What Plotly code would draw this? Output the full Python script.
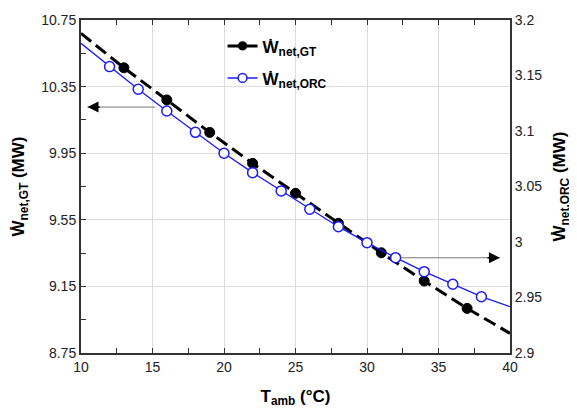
import plotly.graph_objects as go

# Data
t_gt = [10, 13, 16, 19, 22, 25, 28, 31, 34, 37, 40]
w_gt = [10.67, 10.463, 10.27, 10.075, 9.889, 9.709, 9.529, 9.352, 9.182, 9.018, 8.868]
gt_marker_sizes = [0, 10, 10, 10, 10, 10, 10, 10, 10, 10, 0]

t_orc = [10, 12, 14, 16, 18, 20, 22, 24, 26, 28, 30, 32, 34, 36, 38, 40]
w_orc = [3.179, 3.158, 3.1376, 3.118, 3.0988, 3.080, 3.0625, 3.046, 3.0295, 3.0138,
         2.9994, 2.9859, 2.9733, 2.9619, 2.9507, 2.9417]
orc_marker_sizes = [0] + [10] * 14 + [0]

x_ticks = [10, 15, 20, 25, 30, 35, 40]
y_ticks = [8.75, 9.15, 9.55, 9.95, 10.35, 10.75]
y2_ticks = [2.9, 2.95, 3.0, 3.05, 3.1, 3.15, 3.2]
y2_labels = ["2.9", "2.95", "3", "3.05", "3.1", "3.15", "3.2"]

FONT = "Liberation Sans, Arial, DejaVu Sans, sans-serif"

fig = go.Figure()
fig.add_trace(go.Scatter(
    x=t_gt, y=w_gt, mode="lines+markers", name="<b>Ẇ<sub>net,GT</sub></b>",
    legendgroup="a",
    line=dict(color="black", width=3, dash="13px,6px"),
    marker=dict(color="black", size=gt_marker_sizes, opacity=1, line=dict(width=1, color="black")),
    yaxis="y",
))
fig.add_trace(go.Scatter(
    x=t_orc, y=w_orc, mode="lines+markers", name="<b>Ẇ<sub>net,ORC</sub></b>",
    legendgroup="b",
    line=dict(color="#1a1aff", width=1.3),
    marker=dict(color="white", size=orc_marker_sizes, opacity=1, line=dict(color="#1a1aff", width=1.5)),
    yaxis="y2",
))

axis_common = dict(showline=True, linecolor="#333", linewidth=2,
                   tickcolor="#333", ticklen=5, gridcolor="#dcdcdc", zeroline=False,
                   automargin=False,
                   tickfont=dict(family=FONT, size=14, color="#222"))

fig.update_layout(
    width=569, height=406,
    margin=dict(l=73, r=67, t=12, b=61),
    paper_bgcolor="white", plot_bgcolor="white",
    font=dict(family=FONT, color="black"),
    showlegend=True,
    legend=dict(x=0.33, y=0.975, xanchor="left", yanchor="top", bgcolor="rgba(255,255,255,0)",
                font=dict(family=FONT, size=17, color="black"), tracegroupgap=7),
    xaxis=dict(range=[10, 40], tickvals=x_ticks, mirror="allticks", ticks="inside",
               minor=dict(tickvals=[12.5, 17.5, 22.5, 27.5, 32.5, 37.5], ticks="inside", ticklen=5, tickcolor="#333"),
               title=dict(text="<b>T<sub>amb</sub> (°C)</b>", font=dict(family=FONT, size=17), standoff=16),
               **axis_common),
    yaxis=dict(range=[8.75, 10.75], tickvals=y_ticks, ticks="inside",
               ticktext=[f"{v:.2f}" for v in y_ticks],
               minor=dict(tickvals=[8.95, 9.35, 9.75, 10.15, 10.55], ticks="inside", ticklen=5, tickcolor="#333"),
               title=dict(text="<b>Ẇ<sub>net,GT</sub> (MW)</b>", font=dict(family=FONT, size=17), standoff=12),
               **axis_common),
    yaxis2=dict(range=[2.9, 3.2], tickvals=y2_ticks, ticktext=y2_labels,
                overlaying="y", side="right", showgrid=False, ticks="",
                title=dict(text="<b>Ẇ<sub>net,ORC</sub> (MW)</b>", font=dict(family=FONT, size=17), standoff=12),
                **axis_common),
)

# Arrows indicating which axis each curve belongs to
fig.add_shape(type="line", x0=10.45, x1=15.2, y0=10.227, y1=10.227, xref="x", yref="y",
              line=dict(color="#777", width=1))
fig.add_annotation(x=10.45, y=10.227, ax=14, ay=0, xref="x", yref="y",
                   text="", showarrow=True, arrowhead=2, arrowsize=1.7, arrowwidth=1.3, arrowcolor="black")
fig.add_shape(type="line", x0=32.4, x1=39.3, y0=2.9858, y1=2.9858, xref="x", yref="y2",
              line=dict(color="#777", width=1))
fig.add_annotation(x=39.3, y=2.9858, ax=-14, ay=0, xref="x", yref="y2",
                   text="", showarrow=True, arrowhead=2, arrowsize=1.7, arrowwidth=1.3, arrowcolor="black")

fig.write_html("out.html")
